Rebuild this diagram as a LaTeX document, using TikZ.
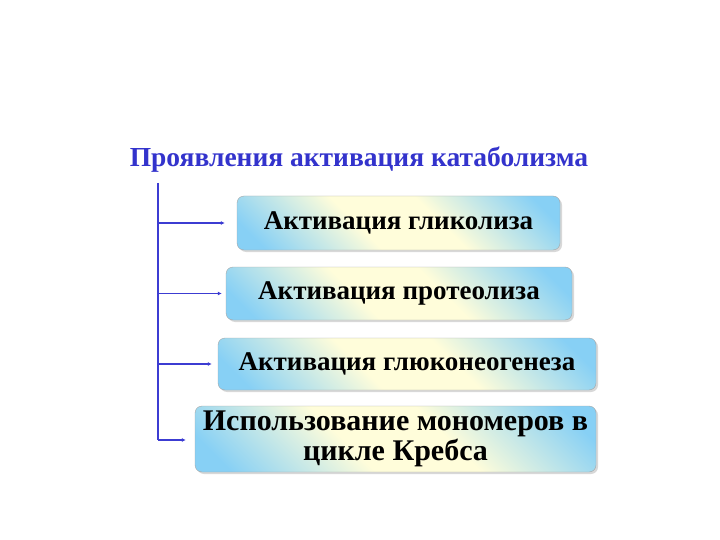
\documentclass[tikz,border=0pt]{standalone}
\usepackage{fontspec}
\setmainfont{Liberation Serif}
\usepackage{xcolor}
\usetikzlibrary{arrows.meta, positioning, shadows}
\definecolor{titleblue}{RGB}{51,51,204}
\definecolor{lineblue}{RGB}{60,60,210}
\definecolor{boxblue}{RGB}{135,208,245}
\definecolor{boxcream}{RGB}{255,253,218}
\pgfdeclareverticalshading{stagefill}{100bp}{color(0bp)=(boxblue); color(20bp)=(boxblue); color(42bp)=(boxcream); color(58bp)=(boxcream); color(80bp)=(boxblue); color(100bp)=(boxblue)}

\begin{document}
\begin{tikzpicture}[
    x=1pt, y=-1pt,
    stage/.style={draw=gray!70, rounded corners=7pt, align=center, inner sep=0pt,
        shading=stagefill, shading angle=135,
        drop shadow={shadow xshift=2pt, shadow yshift=-2pt, fill=gray!60},
        font=\fontsize{27}{31}\selectfont\bfseries},
    spine/.style={draw=lineblue, line width=1.2pt},
    arrow/.style={-{Latex[length=4pt,width=4pt]}, draw=lineblue, line width=1.2pt}
]
\useasboundingbox (0,0) rectangle (720,540);

\node[text=titleblue, font=\fontsize{27.5}{32}\selectfont\bfseries] (title) at (359,160) {Проявления активация катаболизма};

\node[stage, minimum width=323pt, minimum height=54pt] (glyco) at (398.5,223) {Активация гликолиза};
\node[stage, minimum width=346pt, minimum height=53pt] (proteo) at (399,293.5) {Активация протеолиза};
\node[stage, minimum width=378pt, minimum height=52pt] (gluconeo) at (407,364) {Активация глюконеогенеза};
\node[stage, minimum width=401pt, minimum height=66pt, font=\fontsize{30}{30}\selectfont\bfseries] (krebs) at (395.5,439) {Использование мономеров в\\цикле Кребса};

\coordinate (top) at (158,183);
\coordinate (bottom) at (158,440);
\draw[spine] (top) -- (bottom);

\draw[arrow] (top |- glyco.west) -- ([xshift=-12pt]glyco.west);
\draw[arrow] (top |- proteo.west) -- ([xshift=-4pt]proteo.west);
\draw[arrow] (top |- gluconeo.west) -- ([xshift=-6pt]gluconeo.west);
\draw[arrow] (bottom) -- ([xshift=-9pt]bottom -| krebs.west);

\end{tikzpicture}
\end{document}
